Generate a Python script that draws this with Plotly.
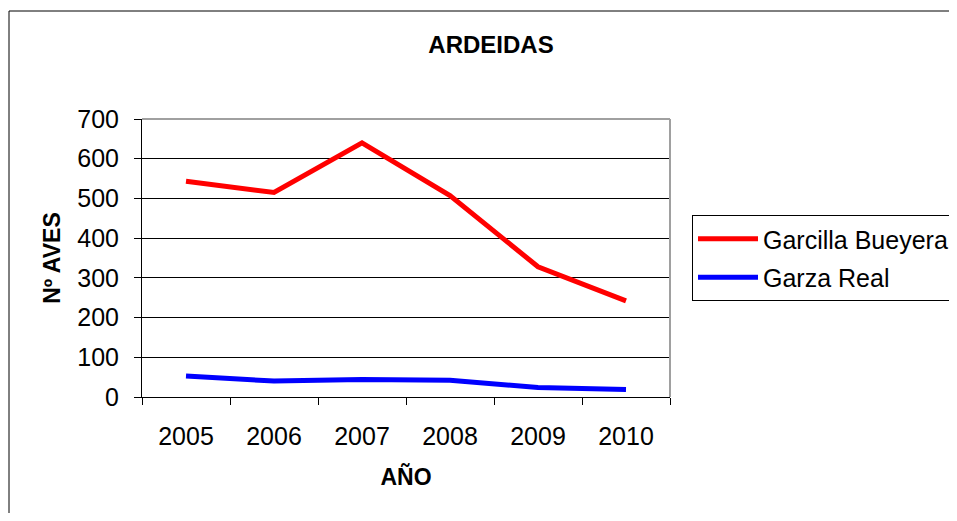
import plotly.graph_objects as go

years = ["2005", "2006", "2007", "2008", "2009", "2010"]
garcilla_bueyera = [543, 515, 640, 507, 328, 242]
garza_real = [53, 40, 44, 42, 24, 19]
y_ticks = [0, 100, 200, 300, 400, 500, 600, 700]

FONT = "Arial, Liberation Sans, sans-serif"
OFF = 8  # page body offset
W, H = 957 - 2 * OFF, 521 - 2 * OFF
L, R, T, B = 142 - OFF, 670 - OFF, 119 - OFF, 397 - OFF
PW, PH = R - L, B - T

fig = go.Figure()
fig.add_trace(go.Scatter(x=years, y=garcilla_bueyera, mode="lines", name="Garcilla Bueyera",
                         line=dict(color="#FF0000", width=5), legendgroup="a"))
fig.add_trace(go.Scatter(x=years, y=garza_real, mode="lines", name="Garza Real",
                         line=dict(color="#0000FF", width=5), legendgroup="b"))

fig.update_layout(
    width=W, height=H,
    margin=dict(l=L, r=W - R, t=T, b=H - B, autoexpand=False),
    paper_bgcolor="white", plot_bgcolor="white",
    font=dict(family=FONT, color="black", size=25),
    title=dict(text="<b>ARDEIDAS</b>", x=(491 - OFF) / W, xref="container", xanchor="center",
               y=1 - (45 - OFF) / H, yref="container", yanchor="middle",
               font=dict(family=FONT, size=24, color="black")),
    showlegend=True,
    legend=dict(xref="container", yref="container", x=(692 - OFF) / W, y=1 - (215 - OFF) / H,
                xanchor="left", yanchor="top", bordercolor="black", borderwidth=1,
                bgcolor="white", font=dict(family=FONT, size=25, color="black"),
                itemwidth=60, traceorder="grouped", tracegroupgap=3),
)

fig.update_xaxes(
    type="category", range=[-0.5, 5.5], tickson="boundaries", ticks="outside", ticklen=7,
    tickcolor="black", showline=True, linecolor="black", linewidth=1, showgrid=False,
    tickfont=dict(family=FONT, size=25), ticklabelstandoff=17,
    title=dict(text="<b>AÑO</b>", font=dict(family=FONT, size=23), standoff=19),
)
fig.update_yaxes(
    range=[0, 700], tickvals=y_ticks, ticks="outside", ticklen=7, tickcolor="black",
    showline=True, linecolor="black", linewidth=1,
    showgrid=True, gridcolor="black", gridwidth=1, zeroline=False,
    tickfont=dict(family=FONT, size=25), ticklabelstandoff=10,
    title=dict(text="<b>Nº AVES</b>", font=dict(family=FONT, size=23), standoff=10),
)

# grey top and right plot-area border
fig.add_shape(type="line", xref="x domain", yref="y domain", x0=0, x1=1, y0=1, y1=1,
              line=dict(color="#A0A0A0", width=2), layer="above")
fig.add_shape(type="line", xref="x domain", yref="y domain", x0=1, x1=1, y0=0, y1=1,
              line=dict(color="#A0A0A0", width=2), layer="above")
# outer chart border (top and left edges; right and bottom lie outside the view)
x_left = (9 - OFF - L) / PW
y_top = (B - (11 - OFF)) / PH
fig.add_shape(type="line", xref="paper", yref="paper", x0=x_left, x1=(W + 20 - L) / PW,
              y0=y_top, y1=y_top, line=dict(color="black", width=1), layer="below")
fig.add_shape(type="line", xref="paper", yref="paper", x0=x_left, x1=x_left,
              y0=(B - H - 20) / PH, y1=y_top, line=dict(color="black", width=1), layer="below")

fig.write_html("out.html")
